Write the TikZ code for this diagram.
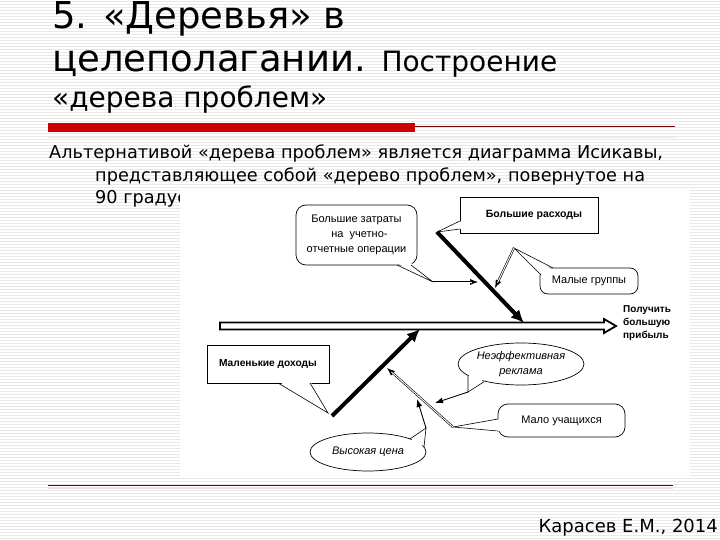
\documentclass[tikz,border=0pt]{standalone}
\usepackage{fontspec}
\setmainfont{DejaVu Sans}
\newfontfamily\diagf{Liberation Sans}
\usetikzlibrary{arrows.meta,shapes.geometric}
\definecolor{slred}{RGB}{204,0,0}
\definecolor{dkred}{RGB}{110,0,0}
\begin{document}
\begin{tikzpicture}[x=1pt,y=-1pt,
  stripe/.style={black!9,line width=0.6pt},
  ttl/.style={anchor=base west,inner sep=0},
  blbl/.style={font=\diagf\bfseries\fontsize{10}{13}\selectfont,align=left,inner sep=0},
  box/.style={draw,fill=white,line width=0.7pt,inner sep=0,font=\diagf\fontsize{11}{15}\selectfont,align=center},
  rbox/.style={box,rounded corners=10pt},
  ell/.style={draw,fill=white,ellipse,line width=0.7pt,inner sep=0,font=\diagf\itshape\fontsize{11}{15}\selectfont,align=center},
  tail/.style={line width=0.6pt,line join=miter},
  thickarr/.style={line width=4pt,-{Latex[length=13pt,width=12pt]}},
  thinarr/.style={line width=0.9pt,-{Latex[length=8pt,width=6pt]}},
  dbltip/.style={line width=0.6pt,-{Latex[length=8pt,width=6pt]}},
  dblline/.style={double,double distance=0.9pt,line width=0.6pt,shorten >=6pt}]
\useasboundingbox (0,0) rectangle (720,540);
\fill[white] (0,0) rectangle (720,540);
\foreach \y in {1.5,4.5,...,540} \draw[stripe] (0,\y) -- (720,\y);

% title
\node[ttl] (t1) at (52,29) {\fontsize{37}{40}\selectfont 5. «Деревья» в};
\node[ttl] (t2) at (52,72) {\fontsize{37}{40}\selectfont целеполагании. \fontsize{28}{30}\selectfont Построение};
\node[ttl] (t3) at (52,108) {\fontsize{28}{30}\selectfont «дерева проблем»};
\fill[slred] (48,123) rectangle (415,132);
\draw[dkred,line width=1pt] (415,127) -- (675,127);
\draw[cyan!15,line width=0.8pt] (48,137) -- (675,137);

% body text
\node[ttl] (b1) at (49,159) {\fontsize{17.7}{20}\selectfont Альтернативой «дерева проблем» является диаграмма Исикавы,};
\node[ttl] (b2) at (95,182) {\fontsize{17.7}{20}\selectfont представляющее собой «дерево проблем», повернутое на};
\node[ttl] (b3) at (95,204) {\fontsize{17.7}{20}\selectfont 90 градусов};

% picture area
\fill[white] (180,188) rectangle (690,478);

% spine
\filldraw[fill=white,line width=1.8pt,line join=miter]
  (220,322.5) -- (604,322.5) -- (604,319) -- (616,326) -- (604,333) -- (604,329.5) -- (220,329.5) -- cycle;
\node[blbl,anchor=north west] (goal) at (623,305) {Получить\\большую\\прибыль};

% upper branch
\coordinate (u0) at (437,232);
\coordinate (u1) at (524,323);
\draw[thickarr] (u0) -- (u1);

\node[box,minimum width=138pt,minimum height=36pt,font=\diagf\bfseries\fontsize{10.5}{13}\selectfont] (rash) at (529,215) {\hspace*{10pt}Большие расходы};
\fill[white] (461.5,221) -- (u0) -- (461.5,229) -- cycle;
\draw[tail] (460,221) -- (u0) -- (460,229);

\node[rbox,minimum width=121pt,minimum height=60pt] (zatr) at (356.5,235) {Большие затраты\\ \hspace*{6pt}на\ \ учетно-\\отчетные операции};
\coordinate (za) at (433,282);
\fill[white] (397,263) -- (za) -- (411,263) -- cycle;
\draw[tail] (397,265) -- (za) -- (411,265);
\coordinate (zb) at (478,282);
\draw[dbltip] (za) -- (zb);
\draw[dblline] (za) -- (zb);

\node[rbox,minimum width=98pt,minimum height=26pt,rounded corners=8pt] (grp) at (589,281) {Малые группы};
\coordinate (ga) at (514,248);
\fill[white] (553,270) -- (ga) -- (543,276) -- cycle;
\draw[tail] (553,268) -- (ga) -- (541,275);
\coordinate (gb) at (495,288);
\draw[dbltip] (ga) -- (gb);
\draw[dblline] (ga) -- (gb);

% lower branch
\coordinate (l0) at (332,416);
\coordinate (l1) at (420,329);
\draw[thickarr] (l0) -- (l1);

\node[box,minimum width=122pt,minimum height=38pt,font=\diagf\bfseries\fontsize{10.2}{13}\selectfont] (doh) at (268,364) {Маленькие доходы};
\coordinate (da) at (328,413);
\fill[white] (278,381) -- (da) -- (310,381) -- cycle;
\draw[tail] (278,383) -- (da) -- (310,383);

\node[ell,minimum width=126pt,minimum height=42pt] (rekl) at (521,364) {Неэффективная\\реклама};
\coordinate (ea) at (468,392);
\fill[white] (469,373) -- (ea) -- (484,379) -- cycle;
\draw[tail] (468,375.5) -- (ea) -- (484,381.8);
\coordinate (eb) at (435,403);
\draw[thinarr] (ea) -- (eb);

\node[rbox,minimum width=127pt,minimum height=33pt] (uch) at (561.5,420.5) {Мало учащихся};
\coordinate (fa) at (453,427);
\fill[white] (500,419) -- (fa) -- (500,431) -- cycle;
\draw[tail] (498,419) -- (fa) -- (498,431);
\coordinate (fb) at (387,368);
\draw[dbltip] (fa) -- (fb);
\draw[dblline] (fa) -- (fb);

\node[ell,minimum width=116pt,minimum height=38pt] (cena) at (368,452) {Высокая цена};
\coordinate (ca) at (426,428);
\fill[white] (410,441) -- (ca) -- (422,447) -- cycle;
\draw[tail] (410,439) -- (ca) -- (424,447);
\coordinate (cb) at (417,399);
\draw[thinarr] (ca) -- (cb);

% bottom
\draw[dkred,line width=1pt] (48,485) -- (673,485);
\draw[red!15,line width=0.8pt] (48,488) -- (673,488);
\node[anchor=base east,inner sep=0] (foot) at (718,532) {\fontsize{18}{20}\selectfont Карасев Е.М., 2014};
\end{tikzpicture}
\end{document}
